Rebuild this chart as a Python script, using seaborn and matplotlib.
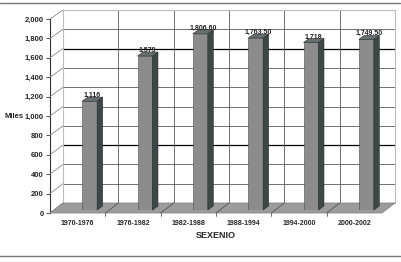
import numpy as np
import pandas as pd
import matplotlib
matplotlib.use("Agg")
import matplotlib.pyplot as plt
import seaborn as sns
from matplotlib.patches import Polygon
from matplotlib.lines import Line2D
from matplotlib.transforms import IdentityTransform

# data
periods = ["1970-1976", "1976-1982", "1982-1988", "1988-1994", "1994-2000", "2000-2002"]
miles = [1116, 1579, 1806.60, 1763.50, 1718, 1749.50]
value_labels = ["1,116", "1,579", "1,806.60", "1,763.50", "1,718", "1,749.50"]
y_ticks = [0, 200, 400, 600, 800, 1000, 1200, 1400, 1600, 1800, 2000]

df = pd.DataFrame({"sexenio": periods, "miles": miles})

sns.set_theme(style="white")
plt.rcParams["font.family"] = ["Liberation Sans", "DejaVu Sans"]
plt.rcParams["font.weight"] = "bold"

W, H = 402, 262
fig = plt.figure(figsize=(W / 100, H / 100), dpi=100)


def box(l, t, r, b):
    return [l / W, 1 - b / H, (r - l) / W, (b - t) / H]


# back wall, front (tick) axes, and bar axes
ax_back = fig.add_axes(box(63, 10, 395, 203))
ax = fig.add_axes(box(50, 19, 382, 213))
ax_bar = fig.add_axes(box(62, 15, 394, 210))

for a in (ax_back, ax, ax_bar):
    a.set_xlim(-0.5, 5.5)
    a.set_ylim(0, 2000)

# back wall grid
ax_back.set_facecolor("white")
for s in ax_back.spines.values():
    s.set_color("#bdbdbd")
    s.set_linewidth(0.8)
ax_back.set_xticks([])
ax_back.set_yticks([])
for v in y_ticks[1:]:
    col = "black" if v in (600, 1600) else "#5a5a5a"
    ax_back.axhline(v, color=col, lw=0.9 if v in (600, 1600) else 0.6)
for b in np.arange(0.5, 5.5, 1):
    ax_back.axvline(b, color="#5a5a5a", lw=0.6)

# front axes: ticks and labels only
ax.patch.set_alpha(0)
for k in ("top", "right", "bottom"):
    ax.spines[k].set_visible(False)
ax.spines["left"].set_color("#333333")
ax.spines["left"].set_linewidth(0.8)
ax.set_yticks(y_ticks)
ax.set_yticklabels([f"{v:,}" for v in y_ticks], fontsize=5.5, fontweight="bold")
ax.tick_params(axis="y", direction="out", length=3, width=0.6, color="#333333", pad=1.5, left=True)
ax.set_xticks(range(len(periods)))
ax.set_xticklabels(periods, fontsize=5, fontweight="bold")
ax.tick_params(axis="x", length=0, pad=5)
ax.set_xlabel("SEXENIO", fontsize=6.5, fontweight="bold", labelpad=3)
ax.set_ylabel("Miles", fontsize=5.5, fontweight="bold", rotation=0, va="center", ha="right")
ax.yaxis.set_label_coords(-0.08, 0.5)

ident = IdentityTransform()

# left wall diagonals
for v in y_ticks:
    p1 = ax.transData.transform((-0.5, v))
    p2 = ax_back.transData.transform((-0.5, v))
    fig.add_artist(Line2D([p1[0], p2[0]], [p1[1], p2[1]], color="#8a8a8a", lw=0.6, transform=ident))

# floor
corners = [ax.transData.transform((-0.5, 0)), ax.transData.transform((5.5, 0)),
           ax_back.transData.transform((5.5, 0)), ax_back.transData.transform((-0.5, 0))]
fig.add_artist(Polygon(corners, closed=True, facecolor="#9c9c9c", edgecolor="#7a7a7a", lw=0.5,
                       transform=ident, zorder=1.5))
for b in np.arange(0.5, 5.5, 1):
    p1 = ax.transData.transform((b, 0))
    p2 = ax_back.transData.transform((b, 0))
    fig.add_artist(Line2D([p1[0], p2[0]], [p1[1], p2[1]], color="#555555", lw=0.6, transform=ident, zorder=1.6))
    fig.add_artist(Line2D([p1[0], p1[0]], [p1[1], p1[1] - 3], color="#555555", lw=0.6, transform=ident, zorder=1.6))

# bars
ax_bar.patch.set_alpha(0)
ax_bar.set_axis_off()
ax_bar.set_zorder(3)
sns.barplot(data=df, x="sexenio", y="miles", ax=ax_bar, color="#8c8c8c", width=0.27,
            saturation=1, edgecolor="#4a4a4a", linewidth=0.4)
ax_bar.set_xlim(-0.5, 5.5)
ax_bar.set_ylim(0, 2000)

dx, dy = 5.5, 4
for p, lab in zip(ax_bar.patches, value_labels):
    x0, w, h = p.get_x(), p.get_width(), p.get_height()
    bl = ax_bar.transData.transform((x0, 0))
    tr = ax_bar.transData.transform((x0 + w, h))
    side = [(tr[0], bl[1]), (tr[0] + dx, bl[1] + dy), (tr[0] + dx, tr[1] + dy), (tr[0], tr[1])]
    top = [(bl[0], tr[1]), (tr[0], tr[1]), (tr[0] + dx, tr[1] + dy), (bl[0] + dx, tr[1] + dy)]
    fig.add_artist(Polygon(side, closed=True, facecolor="#3c4846", edgecolor="#2a2a2a", lw=0.4,
                           transform=ident, zorder=4))
    fig.add_artist(Polygon(top, closed=True, facecolor="#66706e", edgecolor="#2a2a2a", lw=0.4,
                           transform=ident, zorder=4))
    ax_bar.annotate(lab, (x0 + w / 2, h), xytext=(2, 1.5), textcoords="offset points",
                    ha="center", va="bottom", fontsize=5, fontweight="bold", color="#222222",
                    annotation_clip=False)

# frame lines at top and bottom of the figure
fig.add_artist(Line2D([0, 400 / W], [1 - 3 / H, 1 - 3 / H], color="#777777", lw=1, transform=fig.transFigure))
fig.add_artist(Line2D([0, 400 / W], [1 - 256 / H, 1 - 256 / H], color="#777777", lw=1, transform=fig.transFigure))

fig.savefig("out.png", dpi=100)
